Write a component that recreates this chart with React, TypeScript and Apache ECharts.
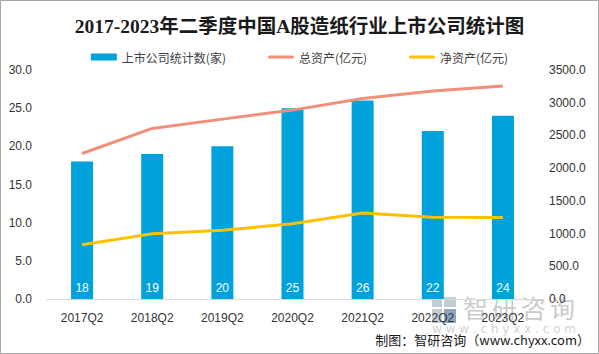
import React, { useEffect, useRef } from "react";
import * as echarts from "echarts";

const categories = ["2017Q2", "2018Q2", "2019Q2", "2020Q2", "2021Q2", "2022Q2", "2023Q2"];
const companyCounts = [18, 19, 20, 25, 26, 22, 24];
const totalAssets = [2224, 2607, 2749, 2887, 3066, 3178, 3255];
const netAssets = [830, 998, 1049, 1151, 1314, 1248, 1244];
const seriesNames = ["上市公司统计数(家)", "总资产(亿元)", "净资产(亿元)"];
const titleText = "2017-2023年二季度中国A股造纸行业上市公司统计图";
const sourceText = "制图：智研咨询（www.chyxx.com）";
const watermarkChars = ["智", "研", "咨", "询"];
const watermarkUrl = "w w w . c h y x x . c o m";

export default function App() {
  const ref = useRef<HTMLDivElement>(null);
  useEffect(() => {
    document.body.style.margin = "0";
    const chart = echarts.init(ref.current!, null, { renderer: "svg" });
    const axisLabel = { color: "#333333", fontSize: 12, fontFamily: "Liberation Sans, Arial, sans-serif" };
    const lineIcon = "path://M1.5,0 L24.5,0 A1.5,1.5 0 0 1 24.5,3 L1.5,3 A1.5,1.5 0 0 1 1.5,0 Z";
    chart.setOption({
      animation: false,
      backgroundColor: "#ffffff",
      title: {
        text: titleText,
        left: "center",
        top: 12,
        textStyle: {
          fontSize: 19.5,
          fontWeight: "bold",
          color: "#1a1a1a",
          fontFamily: "Liberation Serif, Noto Sans CJK SC, serif",
        },
      },
      legend: {
        top: 46,
        left: "center",
        itemGap: 42,
        itemWidth: 26,
        itemHeight: 7,
        textStyle: { color: "#404040", fontSize: 12, fontFamily: "Noto Sans CJK SC, sans-serif" },
        data: [
          { name: seriesNames[0], icon: "rect" },
          { name: seriesNames[1], icon: lineIcon },
          { name: seriesNames[2], icon: lineIcon },
        ],
      },
      grid: { left: 47, right: 61, top: 70, bottom: 55 },
      xAxis: {
        type: "category",
        data: categories,
        axisLine: { lineStyle: { color: "#d9d9d9", width: 1 } },
        axisTick: { show: false },
        axisLabel: { ...axisLabel, margin: 13 },
      },
      yAxis: [
        {
          type: "value",
          min: 0,
          max: 30,
          interval: 5,
          splitLine: { show: false },
          axisLine: { show: false },
          axisTick: { show: false },
          axisLabel: { ...axisLabel, margin: 15, formatter: (v: number) => v.toFixed(1) },
        },
        {
          type: "value",
          min: 0,
          max: 3500,
          interval: 500,
          splitLine: { show: false },
          axisLine: { show: false },
          axisTick: { show: false },
          axisLabel: { ...axisLabel, margin: 11, formatter: (v: number) => v.toFixed(1) },
        },
      ],
      series: [
        {
          name: seriesNames[0],
          type: "bar",
          data: companyCounts,
          barWidth: 22,
          itemStyle: { color: "#00a2db" },
          label: {
            show: true,
            position: "insideBottom",
            distance: 5,
            color: "#ffffff",
            fontSize: 12,
            fontFamily: "Liberation Sans, Arial, sans-serif",
          },
        },
        {
          name: seriesNames[1],
          type: "line",
          yAxisIndex: 1,
          data: totalAssets,
          symbol: "none",
          lineStyle: { color: "#f0907a", width: 3 },
          itemStyle: { color: "#f0907a" },
        },
        {
          name: seriesNames[2],
          type: "line",
          yAxisIndex: 1,
          data: netAssets,
          symbol: "none",
          lineStyle: { color: "#ffc000", width: 3 },
          itemStyle: { color: "#ffc000" },
        },
      ],
      graphic: [
        {
          type: "rect",
          shape: { x: 0.5, y: 0.5, width: 598, height: 353 },
          style: { fill: "none", stroke: "#a6a6a6", lineWidth: 1 },
          silent: true,
          z: 100,
        },
        {
          type: "group",
          silent: true,
          z: 50,
          children: [
            { type: "rect", shape: { x: 432, y: 297, width: 10, height: 10 }, style: { fill: "#c4ccd4" } },
            { type: "rect", shape: { x: 444, y: 297, width: 12, height: 10 }, style: { fill: "#c4ccd4" } },
            { type: "rect", shape: { x: 432, y: 309, width: 10, height: 14 }, style: { fill: "#c4ccd4" } },
            { type: "rect", shape: { x: 444, y: 309, width: 12, height: 14 }, style: { fill: "#8fa8c0" } },
            ...watermarkChars.map((ch, i) => ({
              type: "text",
              x: 463 + i * 29,
              y: 294,
              style: {
                text: ch,
                fontSize: 25,
                fill: "rgba(150,150,150,0.5)",
                fontFamily: "Noto Sans CJK SC, sans-serif",
              },
            })),
            {
              type: "text",
              x: 432,
              y: 323,
              style: {
                text: watermarkUrl,
                fontSize: 12,
                fill: "rgba(150,150,150,0.45)",
                fontFamily: "DejaVu Sans, sans-serif",
              },
            },
          ],
        },
        {
          type: "text",
          right: 9,
          top: 333,
          style: {
            text: sourceText,
            fontSize: 13,
            fill: "#1a1a1a",
            fontFamily: "Noto Sans CJK SC, sans-serif",
          },
          z: 60,
        },
      ],
    });
    return () => chart.dispose();
  }, []);
  return <div ref={ref} style={{ width: 599, height: 354 }} />;
}
